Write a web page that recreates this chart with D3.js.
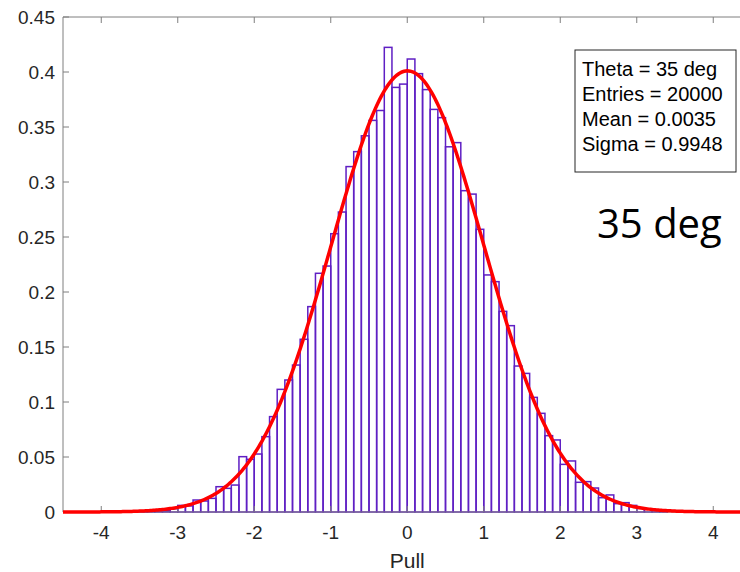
<!DOCTYPE html>
<html>
<head>
<meta charset="utf-8">
<script src="https://cdn.jsdelivr.net/npm/d3@7"></script>
<style>
  body { margin: 0; background: #fff; }
  svg { display: block; font-family: "Liberation Sans", Arial, sans-serif; }
</style>
</head>
<body>
<div id="chart"></div>
<script>
// histogram of pulls, bin width 0.1, first bin starts at -3.5
const binStart = -3.5;
const binWidth = 0.1;
const density = [
  0.0005, 0.0005, 0.001, 0.0013, 0.003, 0.006, 0.0055, 0.0109, 0.010, 0.0124,
  0.023, 0.0215, 0.0245, 0.0503, 0.0479, 0.0527, 0.0685, 0.0867, 0.1115, 0.120,
  0.1336, 0.157, 0.1867, 0.217, 0.2236, 0.253, 0.2727, 0.314, 0.3276, 0.342,
  0.356, 0.365, 0.4224, 0.386, 0.389,
  0.4118, 0.3985, 0.384, 0.366, 0.3585, 0.332, 0.3358, 0.2921, 0.289, 0.257,
  0.2155, 0.2094, 0.1824, 0.1694, 0.1327, 0.126, 0.1042, 0.0897, 0.0694, 0.0655,
  0.0433, 0.0464, 0.027, 0.0276, 0.0218, 0.013, 0.0155, 0.0076, 0.0085, 0.006,
  0.0033, 0.0025, 0.0015, 0.001
];

const xTicks = [-4, -3, -2, -1, 0, 1, 2, 3, 4];
const yTicks = [0, 0.05, 0.1, 0.15, 0.2, 0.25, 0.3, 0.35, 0.4, 0.45];
const statLines = ["Theta = 35 deg", "Entries = 20000", "Mean = 0.0035", "Sigma = 0.9948"];
const fitMean = 0.0035;
const fitSigma = 0.9948;
const bigLabel = "35 deg";
const xLabel = "Pull";

const W = 740, H = 572;
const margin = { top: 17, left: 63, bottom: 60 };
// axes box runs to x=4.5, which falls just past the right edge of the picture
const plotW = 688.5;
const plotH = H - margin.top - margin.bottom;

const svg = d3.select("#chart").append("svg")
  .attr("width", W)
  .attr("height", H);

const g = svg.append("g")
  .attr("transform", `translate(${margin.left},${margin.top})`);

const x = d3.scaleLinear().domain([-4.5, 4.5]).range([0, plotW]);
const y = d3.scaleLinear().domain([0, 0.45]).range([plotH, 0]);

const bins = density.map((v, i) => ({ x0: binStart + i * binWidth, x1: binStart + (i + 1) * binWidth, v }));

g.selectAll("rect.bar")
  .data(bins)
  .enter().append("rect")
  .attr("class", "bar")
  .attr("x", d => x(d.x0))
  .attr("y", d => y(d.v))
  .attr("width", d => x(d.x1) - x(d.x0))
  .attr("height", d => y(0) - y(d.v))
  .attr("fill", "none")
  .attr("stroke", "#5f1fc4")
  .attr("stroke-width", 1.5);

// gaussian fit from the Mean / Sigma shown in the stats box
const fitPts = d3.range(-4.5, 4.5001, 0.02).map(t => [t,
  Math.exp(-0.5 * ((t - fitMean) / fitSigma) ** 2) / (fitSigma * Math.sqrt(2 * Math.PI))]);

const axisColor = "#262626";
const lineColor = "#7f7f7f";

// axes box
g.append("line").attr("x1", 0).attr("x2", plotW).attr("y1", plotH).attr("y2", plotH)
  .attr("stroke", lineColor).attr("stroke-width", 1);
g.append("line").attr("x1", 0).attr("x2", plotW).attr("y1", 0).attr("y2", 0)
  .attr("stroke", lineColor).attr("stroke-width", 1);
g.append("line").attr("x1", 0).attr("x2", 0).attr("y1", 0).attr("y2", plotH)
  .attr("stroke", lineColor).attr("stroke-width", 1);

// ticks point inwards, also on the top edge
g.selectAll("line.xt-bot").data(xTicks).enter().append("line")
  .attr("x1", d => x(d)).attr("x2", d => x(d))
  .attr("y1", plotH).attr("y2", plotH - 6)
  .attr("stroke", lineColor);
g.selectAll("line.xt-top").data(xTicks).enter().append("line")
  .attr("x1", d => x(d)).attr("x2", d => x(d))
  .attr("y1", 0).attr("y2", 6)
  .attr("stroke", lineColor);
g.selectAll("line.yt").data(yTicks).enter().append("line")
  .attr("x1", 0).attr("x2", 6)
  .attr("y1", d => y(d)).attr("y2", d => y(d))
  .attr("stroke", lineColor);

g.append("path")
  .datum(fitPts)
  .attr("fill", "none")
  .attr("stroke", "#ff0000")
  .attr("stroke-width", 3.5)
  .attr("d", d3.line().x(d => x(d[0])).y(d => y(d[1])));

g.selectAll("text.xl").data(xTicks).enter().append("text")
  .attr("x", d => x(d))
  .attr("y", plotH + 27)
  .attr("text-anchor", "middle")
  .attr("font-size", 19)
  .attr("fill", axisColor)
  .text(d => d);

g.selectAll("text.yl").data(yTicks).enter().append("text")
  .attr("x", -8)
  .attr("y", d => y(d))
  .attr("dy", "0.35em")
  .attr("text-anchor", "end")
  .attr("font-size", 19)
  .attr("fill", axisColor)
  .text(d => d);

g.append("text")
  .attr("x", x(0))
  .attr("y", plotH + 56)
  .attr("text-anchor", "middle")
  .attr("font-size", 21)
  .attr("fill", axisColor)
  .text(xLabel);

// stats box
const box = svg.append("g").attr("transform", "translate(575,50)");
box.append("rect")
  .attr("width", 161).attr("height", 122)
  .attr("fill", "#fff").attr("stroke", "#262626").attr("stroke-width", 1);
box.selectAll("text").data(statLines).enter().append("text")
  .attr("x", 7)
  .attr("y", (d, i) => 26 + i * 25)
  .attr("font-size", 20)
  .attr("fill", "#000")
  .text(d => d);

svg.append("text")
  .attr("x", 597)
  .attr("y", 238)
  .attr("font-family", "'Open Sans', sans-serif")
  .attr("font-size", 40)
  .attr("fill", "#000")
  .text(bigLabel);
</script>
</body>
</html>
